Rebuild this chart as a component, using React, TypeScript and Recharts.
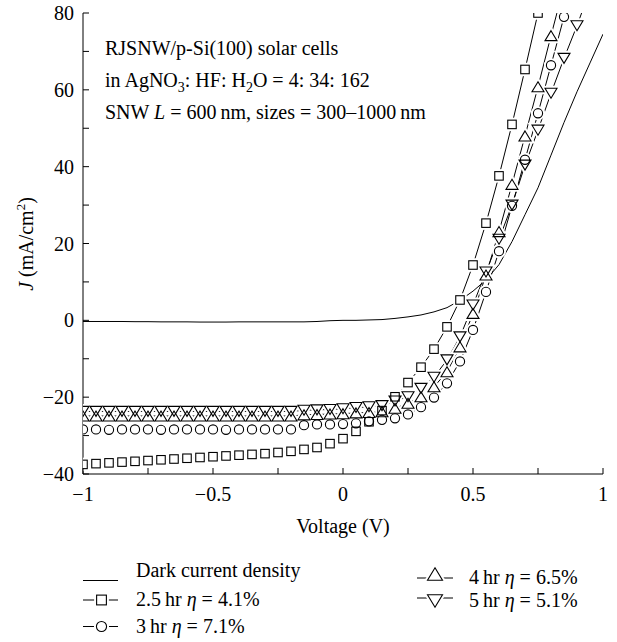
import React from "react";
import { LineChart, Line, XAxis, YAxis, Customized } from "recharts";

const FONT = "Liberation Serif, DejaVu Serif, serif";
const txt = { fontFamily: FONT, fontSize: 20 };

// voltage grid (V)
const volts = [
  -1, -0.95, -0.9, -0.85, -0.8, -0.75, -0.7, -0.65, -0.6, -0.55, -0.5, -0.45, -0.4, -0.35, -0.3, -0.25,
  -0.2, -0.15, -0.1, -0.05, 0, 0.05, 0.1, 0.15, 0.2, 0.25, 0.3, 0.35, 0.4, 0.45, 0.5, 0.55, 0.6, 0.65,
  0.7, 0.75, 0.8, 0.85, 0.9, 0.95, 1,
];

// current density J (mA/cm^2)
const dark = [
  -0.3, -0.3, -0.3, -0.3, -0.35, -0.35, -0.4, -0.4, -0.4, -0.45, -0.45, -0.45, -0.4, -0.4, -0.4, -0.4,
  -0.4, -0.4, -0.3, -0.1, 0, 0, 0.1, 0.2, 0.5, 0.9, 1.4, 2.2, 3.3, 5.2, 7.6, 10.5, 14.5, 20.5,
  27.5, 34.5, 43, 51.5, 59.5, 67, 74.5,
];
const hr25 = [
  -37.5, -37.3, -37.1, -36.9, -36.7, -36.5, -36.3, -36.1, -35.9, -35.7, -35.5, -35.3, -35.1, -34.9, -34.7, -34.4,
  -34.1, -33.6, -33.1, -32.1, -30.8, -28.9, -26.4, -23.5, -19.9, -16.2, -12.2, -7.5, -1.7, 5.3, 14.4, 25.3, 37.6, 51,
  65.3, 80, 95, null, null, null, null,
];
const hr3 = [
  -28.4, -28.4, -28.5, -28.4, -28.4, -28.4, -28.5, -28.4, -28.4, -28.4, -28.4, -28.5, -28.4, -28.4, -28.4, -28.4,
  -28.4, -27.3, -27.1, -27.1, -27.0, -26.8, -26.3, -25.9, -25.5, -24.5, -22.6, -20.1, -16.4, -10.7, -2.5, 7.4, 18, 29.8,
  41.8, 53.9, 66.4, 79, 92, null, null,
];
const hr4 = [
  -24.9, -24.9, -24.9, -24.9, -24.9, -24.9, -24.9, -24.9, -24.9, -24.9, -24.9, -24.9, -24.9, -24.9, -24.9, -24.9,
  -24.9, -24.6, -24.5, -24.4, -24.3, -24.1, -24.0, -23.8, -22.9, -21.6, -19.9, -17.3, -13.4, -6.9, 1.8, 11.8, 23.1, 35.4,
  48, 60.8, 74.1, 87, null, null, null,
];
const hr5 = [
  -23.7, -23.7, -23.7, -23.7, -23.7, -23.7, -23.7, -23.7, -23.7, -23.7, -23.7, -23.7, -23.7, -23.7, -23.7, -23.7,
  -23.7, -23.4, -23.3, -23.2, -23.0, -22.7, -22.5, -22.2, -21.0, -19.9, -17.7, -14.8, -10.3, -4.3, 4.0, 12.6, 21.1, 30,
  40.4, 49.5, 59.1, 68.2, 76.7, 86, null,
];

const xTicks = [-1, -0.75, -0.5, -0.25, 0, 0.25, 0.5, 0.75, 1];
const xLabels = ["\u22121", "", "\u22120.5", "", "0", "", "0.5", "", "1"];
const yTicks = [-40, -30, -20, -10, 0, 10, 20, 30, 40, 50, 60, 70, 80];
const yLabels = ["\u221240", "", "\u221220", "", "0", "", "20", "", "40", "", "60", "", "80"];

const data = volts.map((v, i) => ({
  v,
  dark: dark[i],
  hr25: hr25[i],
  hr3: hr3[i],
  hr4: hr4[i],
  hr5: hr5[i],
}));

type MarkProps = { cx: number; cy: number; k?: number; halo?: boolean };

const look = (halo?: boolean) =>
  halo
    ? { fill: "#fff", stroke: "#fff", strokeWidth: 5 }
    : { fill: "none", stroke: "#000", strokeWidth: 1.1 };

const SquareMark = ({ cx, cy, k = 1, halo }: MarkProps) => {
  const s = 8.5 * k;
  return <rect x={cx - s / 2} y={cy - s / 2} width={s} height={s} {...look(halo)} />;
};
const CircleMark = ({ cx, cy, k = 1, halo }: MarkProps) => (
  <circle cx={cx} cy={cy} r={4.6 * k} {...look(halo)} />
);
const UpMark = ({ cx, cy, k = 1, halo }: MarkProps) => {
  const w = 6 * k;
  const h = 5 * k;
  return <polygon points={`${cx},${cy - h} ${cx + w},${cy + h} ${cx - w},${cy + h}`} {...look(halo)} />;
};
const DownMark = ({ cx, cy, k = 1, halo }: MarkProps) => {
  const w = 6 * k;
  const h = 5 * k;
  return <polygon points={`${cx - w},${cy - h} ${cx + w},${cy - h} ${cx},${cy + h}`} {...look(halo)} />;
};

const markerSeries = [
  { key: "hr25", Mark: SquareMark },
  { key: "hr3", Mark: CircleMark },
  { key: "hr4", Mark: UpMark },
  { key: "hr5", Mark: DownMark },
];

const dotFor = (Mark: (p: MarkProps) => React.ReactElement, halo: boolean) => (p: any) => {
  if (p.cx == null || p.cy == null || p.value == null || isNaN(p.cy)) return <g key={p.index} />;
  return (
    <g key={p.index}>
      <Mark cx={p.cx} cy={p.cy} halo={halo} />
    </g>
  );
};

const TICK = 6;

const bottomTick = (p: any) => {
  const i = xTicks.indexOf(p.payload.value);
  return (
    <g>
      <line x1={p.x} y1={p.y} x2={p.x} y2={p.y - TICK} stroke="#000" />
      {xLabels[i] ? (
        <text x={p.x} y={p.y + 27} textAnchor="middle" fill="#000" style={txt}>
          {xLabels[i]}
        </text>
      ) : null}
    </g>
  );
};
const topTick = (p: any) => <line x1={p.x} y1={p.y} x2={p.x} y2={p.y + TICK} stroke="#000" />;
const leftTick = (p: any) => {
  const i = yTicks.indexOf(p.payload.value);
  return (
    <g>
      <line x1={p.x} y1={p.y} x2={p.x + TICK} y2={p.y} stroke="#000" />
      {yLabels[i] ? (
        <text x={p.x - 9} y={p.y + 7} textAnchor="end" fill="#000" style={txt}>
          {yLabels[i]}
        </text>
      ) : null}
    </g>
  );
};
const rightTick = (p: any) => <line x1={p.x} y1={p.y} x2={p.x - TICK} y2={p.y} stroke="#000" />;

const Texts = () => (
  <g fill="#000" style={txt}>
    <text x={105} y={55}>RJSNW/p-Si(100) solar cells</text>
    <text x={105} y={87}>
      in AgNO<tspan dy={5} fontSize={14}>3</tspan>
      <tspan dy={-5}>: HF: H</tspan>
      <tspan dy={5} fontSize={14}>2</tspan>
      <tspan dy={-5}>O = 4: 34: 162</tspan>
    </text>
    <text x={105} y={119}>
      SNW <tspan fontStyle="italic">L</tspan> = 600{"\u2009"}nm, sizes = 300–1000{"\u2009"}nm
    </text>
    <text x={343} y={533} textAnchor="middle">
      Voltage (V)
    </text>
    <text x={33} y={244} textAnchor="middle" transform="rotate(-90 33 244)">
      <tspan fontStyle="italic">J</tspan> (mA/cm<tspan dy={-8} fontSize={13}>2</tspan>
      <tspan dy={8}>)</tspan>
    </text>
  </g>
);

const Eta = ({ x, y, pre, val }: { x: number; y: number; pre: string; val: string }) => (
  <text x={x} y={y}>
    {pre}
    {"\u2009"}hr <tspan fontStyle="italic">η</tspan> = {val}
  </text>
);

const LegendBox = () => (
  <g fill="#000" style={txt}>
    <line x1={83} y1={580.5} x2={118} y2={580.5} stroke="#000" />
    <text x={136} y={577}>Dark current density</text>

    <line x1={83} y1={600} x2={118} y2={600} stroke="#000" />
    <SquareMark cx={101.5} cy={600} k={1.15} halo />
    <SquareMark cx={101.5} cy={600} k={1.15} />
    <Eta x={136} y={606} pre="2.5" val="4.1%" />

    <line x1={83} y1={626.5} x2={118} y2={626.5} stroke="#000" />
    <CircleMark cx={101.5} cy={626.5} k={1.1} halo />
    <CircleMark cx={101.5} cy={626.5} k={1.1} />
    <Eta x={136} y={633} pre="3" val="7.1%" />

    <line x1={417} y1={578} x2={453} y2={578} stroke="#000" />
    <UpMark cx={435} cy={574} k={1.25} halo />
    <UpMark cx={435} cy={574} k={1.25} />
    <Eta x={469} y={584} pre="4" val="6.5%" />

    <line x1={417} y1={598} x2={453} y2={598} stroke="#000" />
    <DownMark cx={435} cy={601} k={1.25} halo />
    <DownMark cx={435} cy={601} k={1.25} />
    <Eta x={469} y={607} pre="5" val="5.1%" />
  </g>
);

export default function App() {
  return (
    <div>
      <style>{"body{margin:0;}"}</style>
      <LineChart width={617} height={642} data={data} margin={{ top: 13, right: 14, bottom: 0, left: 0 }}>
        <XAxis
          dataKey="v"
          type="number"
          domain={[-1, 1]}
          ticks={xTicks}
          interval={0}
          height={168}
          tickSize={0}
          tickMargin={0}
          tickLine={false}
          axisLine={{ stroke: "#000" }}
          tick={bottomTick}
          allowDataOverflow
        />
        <XAxis
          xAxisId="top"
          orientation="top"
          type="number"
          domain={[-1, 1]}
          ticks={xTicks}
          interval={0}
          height={0}
          tickSize={0}
          tickMargin={0}
          tickLine={false}
          axisLine={{ stroke: "#000" }}
          tick={topTick}
        />
        <YAxis
          type="number"
          domain={[-40, 80]}
          ticks={yTicks}
          interval={0}
          width={83}
          tickSize={0}
          tickMargin={0}
          tickLine={false}
          axisLine={{ stroke: "#000" }}
          tick={leftTick}
          allowDataOverflow
        />
        <YAxis
          yAxisId="right"
          orientation="right"
          type="number"
          domain={[-40, 80]}
          ticks={yTicks}
          interval={0}
          width={0}
          tickSize={0}
          tickMargin={0}
          tickLine={false}
          axisLine={{ stroke: "#000" }}
          tick={rightTick}
        />

        <Line dataKey="dark" type="linear" stroke="#000" strokeWidth={1} dot={false} isAnimationActive={false} />
        {markerSeries.map((s) => (
          <Line
            key={`c-${s.key}`}
            dataKey={s.key}
            type="linear"
            stroke="#000"
            strokeWidth={1}
            dot={false}
            isAnimationActive={false}
          />
        ))}
        {markerSeries.map((s) => (
          <Line
            key={`h-${s.key}`}
            dataKey={s.key}
            type="linear"
            stroke="none"
            dot={dotFor(s.Mark, true)}
            isAnimationActive={false}
          />
        ))}
        {markerSeries.map((s) => (
          <Line
            key={`m-${s.key}`}
            dataKey={s.key}
            type="linear"
            stroke="none"
            dot={dotFor(s.Mark, false)}
            isAnimationActive={false}
          />
        ))}

        <Customized component={Texts} />
        <Customized component={LegendBox} />
      </LineChart>
    </div>
  );
}
